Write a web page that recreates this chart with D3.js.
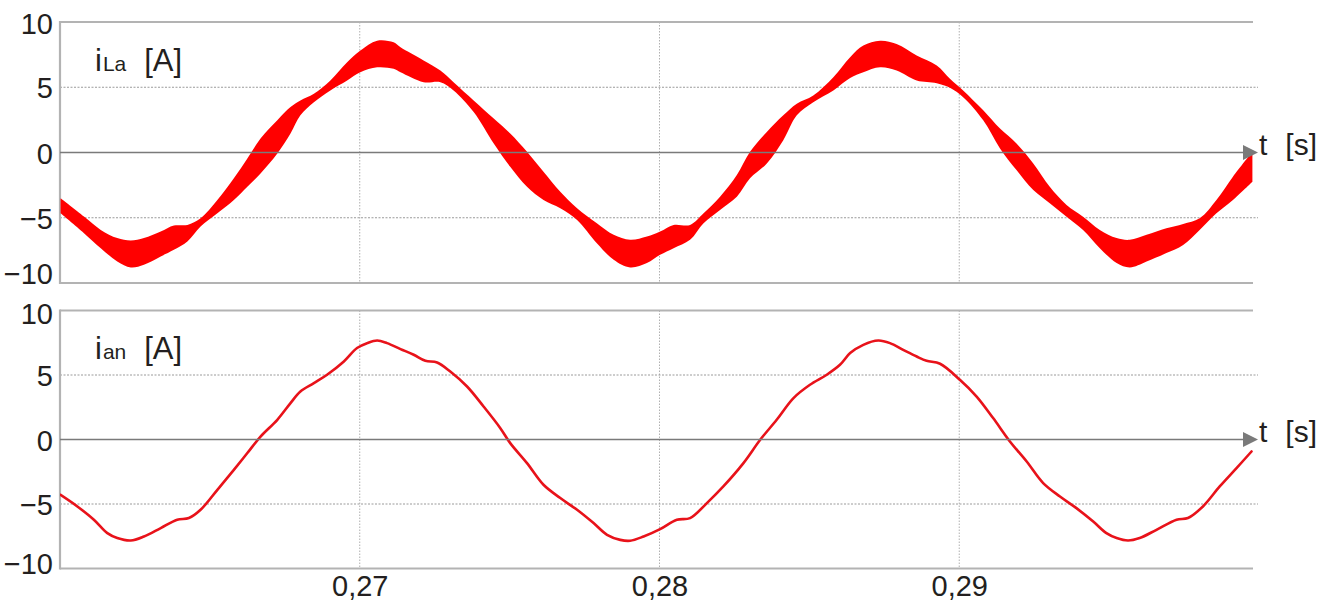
<!DOCTYPE html>
<html>
<head>
<meta charset="utf-8">
<script src="https://cdn.jsdelivr.net/npm/d3@7/dist/d3.min.js"></script>
<style>
  html, body { margin: 0; padding: 0; background: #fff; }
  svg { display: block; font-family: "Liberation Sans", Arial, sans-serif; }
</style>
</head>
<body>
<svg id="chart" width="1339" height="606"></svg>
<script>
// Time axis [s]
const timeDomain = [0.26, 0.2998];
const timeTicks = [0.27, 0.28, 0.29];
const timeTickLabels = ["0,27", "0,28", "0,29"];
const currentTicks = [-10, -5, 0, 5, 10];
const currentGrid = [-5, 5];

// Load current iLa: switching ripple envelope [A]
const tLoad = [0.26002,0.26080,0.26136,0.26191,0.26236,0.26280,0.26336,0.26380,0.26425,0.26469,0.26525,0.26580,0.26625,0.26669,0.26725,0.26769,0.26802,0.26847,0.26902,0.26958,0.27002,0.27058,0.27113,
  0.27136,0.27213,0.27269,0.27313,0.27380,0.27447,0.27502,0.27558,0.27613,0.27669,0.27725,0.27791,0.27847,0.27902,0.27958,0.28002,0.28047,0.28102,0.28147,0.28202,0.28258,0.28302,0.28358,0.28413,0.28458,0.28513,0.28580,0.28636,
  0.28680,0.28736,0.28791,0.28858,0.28925,0.28969,0.29013,0.29080,0.29136,0.29191,0.29247,0.29302,0.29358,0.29413,0.29469,0.29525,0.29569,0.29625,0.29691,0.29747,0.29802,0.29858,0.29913,0.29978];
const iLaUpper = [-3.51,-4.91,-5.93,-6.56,-6.75,-6.56,-6.06,-5.60,-5.55,-5.04,-3.64,-1.98,-0.46,1.07,2.47,3.48,3.99,4.50,5.52,6.92,7.81,8.57,8.44,
  8.06,7.05,6.28,5.39,3.99,2.60,1.45,0.05,-1.48,-3.01,-4.27,-5.42,-6.31,-6.69,-6.44,-6.06,-5.55,-5.55,-4.66,-3.39,-1.73,0.05,1.57,2.85,3.74,4.37,5.77,7.30,
  8.19,8.57,8.32,7.43,6.66,5.65,4.76,3.23,1.83,0.69,-0.84,-2.63,-4.02,-4.92,-5.93,-6.56,-6.69,-6.31,-5.80,-5.47,-5.04,-3.64,-1.86,0.05];
const iLaLower = [-4.66,-6.18,-7.33,-8.35,-8.81,-8.60,-7.97,-7.46,-6.82,-5.68,-4.66,-3.64,-2.63,-1.60,-0.08,1.45,2.85,3.86,4.76,5.52,6.15,6.53,6.41,
  6.15,5.39,5.39,4.76,3.10,0.69,-1.10,-2.63,-3.64,-4.27,-5.17,-6.95,-8.22,-8.81,-8.47,-7.84,-7.33,-6.69,-5.42,-4.40,-3.39,-1.98,-0.84,0.94,2.85,3.86,4.76,5.70,
  6.15,6.53,6.28,5.52,5.31,4.96,4.24,2.47,0.31,-1.35,-2.88,-3.89,-4.92,-5.93,-7.33,-8.47,-8.81,-8.35,-7.71,-7.08,-5.93,-4.66,-3.64,-2.24];

// Source current ian [A]
const tSrc = [0.26002,0.26058,0.26113,0.26158,0.26191,0.26236,0.26280,0.26336,0.26391,0.26430,0.26469,0.26525,0.26580,0.26625,0.26669,0.26725,0.26769,0.26802,0.26847,0.26891,0.26947,0.26991,0.27025,0.27058,0.27091,0.27136,
  0.27180,0.27219,0.27258,0.27302,0.27358,0.27413,0.27469,0.27502,0.27558,0.27613,0.27669,0.27725,0.27780,0.27825,0.27869,0.27902,0.27947,0.28002,0.28058,0.28102,0.28158,0.28213,0.28280,0.28336,0.28391,0.28447,0.28502,0.28558,0.28602,0.28636,
  0.28680,0.28730,0.28769,0.28813,0.28858,0.28891,0.28936,0.29002,0.29058,0.29113,0.29169,0.29225,0.29280,0.29336,0.29391,0.29447,0.29491,0.29525,0.29563,0.29602,0.29658,0.29725,0.29763,0.29813,0.29869,0.29925,0.29975];
const ian = [-4.29,-5.19,-6.22,-7.26,-7.64,-7.83,-7.52,-6.87,-6.22,-6.09,-5.45,-3.90,-2.35,-1.05,0.23,1.53,2.82,3.72,4.37,5.02,6.05,7.09,7.47,7.67,7.47,7.01,
  6.57,6.10,5.97,5.27,4.11,2.56,0.88,-0.28,-1.83,-3.51,-4.54,-5.45,-6.48,-7.39,-7.78,-7.85,-7.52,-6.95,-6.22,-6.09,-4.93,-3.64,-1.83,-0.02,1.53,3.21,4.24,5.02,5.79,6.70,
  7.34,7.67,7.47,6.95,6.43,6.10,5.87,4.63,3.33,1.66,-0.15,-1.71,-3.38,-4.42,-5.32,-6.36,-7.26,-7.64,-7.83,-7.64,-7.00,-6.22,-6.09,-5.19,-3.64,-2.22,-0.93];

const svg = d3.select("#chart");
const left = 60, right = 1253, arrowTip = 1258;
const x = d3.scaleLinear().domain(timeDomain).range([left, right]);

const panels = [
  { id: "top", y: d3.scaleLinear().domain([-10, 10]).range([283, 22]), sym: "i", sub: "La", lowDy: -10, highDy: 1, labelDy: 49 },
  { id: "bot", y: d3.scaleLinear().domain([-10, 10]).range([568.5, 310.5]), sym: "i", sub: "an", lowDy: -6, highDy: 2.5, labelDy: 48 }
];

const defs = svg.append("defs");
panels.forEach(p => {
  defs.append("clipPath").attr("id", "clip-" + p.id)
    .append("rect").attr("x", left).attr("y", p.y(10)).attr("width", right - left).attr("height", p.y(-10) - p.y(10));
});

const ink = "#231f20";
const frame = "#b3b3b3";
const axisGray = "#7a7a7a";

panels.forEach(p => {
  const g = svg.append("g");
  const y = p.y;

  // dotted grid
  g.selectAll(".vgrid").data(timeTicks).join("line")
    .attr("x1", d => x(d)).attr("x2", d => x(d))
    .attr("y1", y(10)).attr("y2", y(-10))
    .attr("stroke", "#b0b0b0").attr("stroke-width", 1).attr("stroke-dasharray", "1.5,1.5");
  g.selectAll(".hgrid").data(currentGrid).join("line")
    .attr("x1", left).attr("x2", arrowTip)
    .attr("y1", d => y(d)).attr("y2", d => y(d))
    .attr("stroke", "#9a9a9a").attr("stroke-width", 1).attr("stroke-dasharray", "2,1.5");

  // frame: top, left, bottom
  g.append("line").attr("x1", left).attr("x2", right).attr("y1", y(10)).attr("y2", y(10))
    .attr("stroke", frame).attr("stroke-width", 2.2);
  g.append("line").attr("x1", left).attr("x2", right).attr("y1", y(-10)).attr("y2", y(-10))
    .attr("stroke", frame).attr("stroke-width", 2.2);
  g.append("line").attr("x1", left).attr("x2", left).attr("y1", y(10) - 1.1).attr("y2", y(-10) + 1.1)
    .attr("stroke", frame).attr("stroke-width", 2.2);

  // data
  const plot = g.append("g").attr("clip-path", `url(#clip-${p.id})`);
  if (p.id === "top") {
    const band = d3.area()
      .x((d, i) => x(tLoad[i]))
      .y0((d, i) => y(iLaLower[i]))
      .y1((d, i) => y(iLaUpper[i]))
      .curve(d3.curveCatmullRom.alpha(0.5));
    plot.append("path").datum(tLoad).attr("d", band).attr("fill", "#ff0000");
  } else {
    const line = d3.line()
      .x((d, i) => x(tSrc[i]))
      .y((d, i) => y(ian[i]))
      .curve(d3.curveCatmullRom.alpha(0.5));
    plot.append("path").datum(tSrc).attr("d", line)
      .attr("fill", "none").attr("stroke", "#e8121a").attr("stroke-width", 2.6)
      .attr("stroke-linejoin", "round").attr("stroke-linecap", "round");
  }

  // time axis with arrow
  g.append("line").attr("x1", left).attr("x2", arrowTip - 14).attr("y1", y(0)).attr("y2", y(0))
    .attr("stroke", axisGray).attr("stroke-width", 1.6);
  g.append("path")
    .attr("d", `M${arrowTip - 15},${y(0) - 7.5}L${arrowTip},${y(0)}L${arrowTip - 15},${y(0) + 7.5}Z`)
    .attr("fill", axisGray);
  const tl = g.append("text").attr("x", arrowTip + 1).attr("y", y(0) + 2)
    .attr("font-size", 30).attr("fill", ink);
  tl.append("tspan").text("t");
  tl.append("tspan").attr("dx", 18).text("[s]");

  // current axis labels
  const ya = d3.axisLeft(y).tickValues(currentTicks).tickSize(0).tickPadding(0).tickFormat(d3.format("d"));
  const yg = g.append("g").attr("transform", `translate(${left - 7},0)`).call(ya);
  yg.select(".domain").remove();
  yg.selectAll("text")
    .attr("font-family", "Liberation Sans, Arial, sans-serif")
    .attr("font-size", 29).attr("fill", ink)
    .attr("dy", d => (d === -10 ? p.lowDy : d === 10 ? p.highDy : 0) + 10.5);

  // quantity label
  const ql = g.append("text").attr("x", 95).attr("y", y(10) + p.labelDy)
    .attr("font-size", 31).attr("fill", ink);
  ql.append("tspan").text(p.sym);
  ql.append("tspan").attr("dx", 1).attr("font-size", 21).text(p.sub);
  ql.append("tspan").attr("dx", 18).text("[A]");
});

// time tick labels below the lower panel
const xa = d3.axisBottom(x).tickValues(timeTicks).tickSize(0).tickPadding(0)
  .tickFormat((d, i) => timeTickLabels[i]);
const xg = svg.append("g").attr("transform", `translate(0,${panels[1].y(-10)})`).call(xa);
xg.select(".domain").remove();
xg.selectAll("text")
  .attr("font-family", "Liberation Sans, Arial, sans-serif")
  .attr("font-size", 29).attr("fill", ink)
  .attr("y", 27).attr("dy", 0);
</script>
</body>
</html>
